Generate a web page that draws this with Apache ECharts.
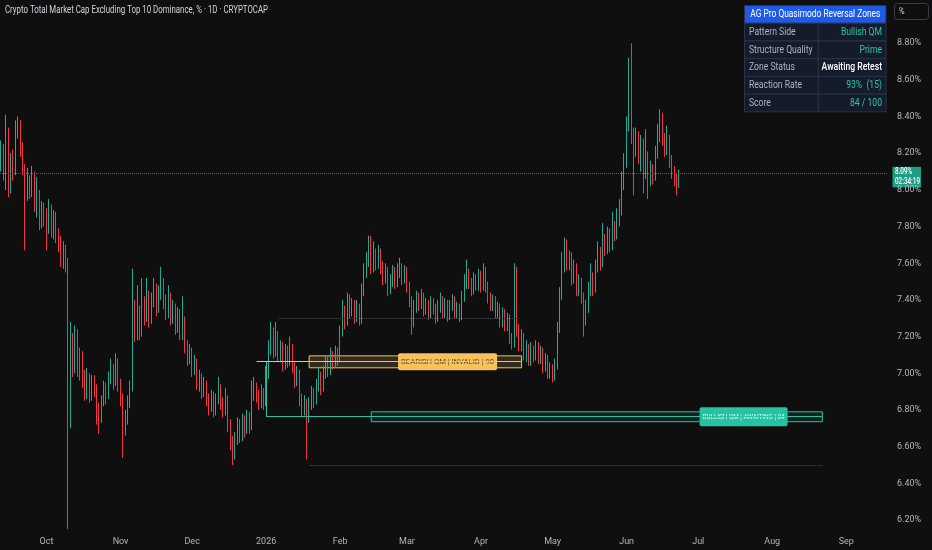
<!DOCTYPE html>
<html><head><meta charset="utf-8">
<script src="https://cdn.jsdelivr.net/npm/echarts@6/dist/echarts.min.js"></script>
<style>html,body{margin:0;padding:0;background:#0f0f0f;overflow:hidden;}#c{width:932px;height:550px;}</style>
</head><body><div id="c"></div>
<script>
// ---------- DATA ----------
const FONT = "Roboto, 'Noto Sans', sans-serif";
const chartTitle = 'Crypto Total Market Cap Excluding Top 10 Dominance, % · 1D · CRYPTOCAP';
const firstDay = [2025, 8, 12];        // 2025-09-12
const axisDays = 372;                  // visible date range incl. empty future space
const monthTickLabels = ['2026','Feb','Mar','Apr','May','Jun','Jul','Aug','Sep','Oct','Nov','Dec'];

// candles: [open, close, low, high]
const sep2025 = [
 [8.15,8.20,8.10,8.27],[8.20,8.10,8.05,8.25],[8.10,8.30,8.00,8.41],[8.30,8.02,7.96,8.34],[8.02,8.15,7.98,8.20],
 [8.15,8.10,8.05,8.22],[8.10,8.32,8.08,8.38],[8.32,8.36,8.28,8.40],[8.36,8.22,8.18,8.38],[8.22,8.12,8.08,8.26],
 [8.12,7.98,7.67,8.14],[7.98,8.05,7.94,8.12],[8.05,7.99,7.95,8.08],[7.99,8.08,7.96,8.13],[8.08,7.92,7.88,8.10],
 [7.92,7.97,7.85,8.07],[7.97,7.82,7.78,8.00],[7.82,7.90,7.79,7.94],[7.90,7.86,7.80,7.93]
];
const oct2025 = [
 [7.86,7.80,7.67,7.90],[7.80,7.90,7.76,7.95],[7.90,7.78,7.74,7.92],[7.78,7.85,7.73,7.89],[7.85,7.75,7.71,7.88],
 [7.75,7.72,7.66,7.79],[7.72,7.62,7.58,7.75],[7.62,7.68,7.57,7.72],[7.68,7.60,7.55,7.70],[7.60,6.85,6.15,7.63],
 [6.85,7.15,6.70,7.28],[7.15,7.05,6.98,7.22],[7.05,7.20,7.00,7.26],[7.20,7.10,6.98,7.24],[7.10,7.02,6.96,7.14],
 [7.02,6.98,6.92,7.12],[6.98,6.90,6.85,7.02],[6.90,6.98,6.86,7.03],[6.98,6.88,6.84,7.00],[6.88,6.95,6.85,6.99],
 [6.95,6.92,6.87,6.99],[6.92,6.80,6.72,6.94],[6.80,6.76,6.67,6.84],[6.76,6.85,6.73,6.88],[6.85,6.92,6.82,6.96],
 [6.92,6.88,6.83,6.95],[6.88,6.98,6.86,7.01],[6.98,7.02,6.94,7.08],[7.02,6.95,6.91,7.05],[6.95,7.05,6.93,7.11],
 [7.05,6.94,6.90,7.08]
];
const nov2025 = [
 [6.94,6.86,6.82,6.97],[6.86,6.70,6.54,6.89],[6.70,6.76,6.66,6.80],[6.76,6.85,6.72,6.88],[6.85,6.92,6.81,6.96],
 [6.92,7.35,6.90,7.57],[7.35,7.22,7.17,7.40],[7.22,7.34,7.18,7.48],[7.34,7.22,7.18,7.37],[7.22,7.38,7.20,7.52],
 [7.38,7.32,7.26,7.42],[7.32,7.42,7.28,7.52],[7.42,7.30,7.25,7.45],[7.30,7.40,7.27,7.44],[7.40,7.46,7.36,7.52],
 [7.46,7.36,7.31,7.49],[7.36,7.44,7.33,7.48],[7.44,7.50,7.40,7.58],[7.50,7.40,7.35,7.52],[7.40,7.34,7.29,7.43],
 [7.34,7.42,7.30,7.48],[7.42,7.30,7.26,7.44],[7.30,7.36,7.27,7.40],[7.36,7.25,7.21,7.38],[7.25,7.32,7.22,7.36],
 [7.32,7.22,7.18,7.35],[7.22,7.28,7.18,7.42],[7.28,7.15,7.11,7.31],[7.15,7.08,7.04,7.18],[7.08,7.12,7.05,7.16]
];
const dec2025 = [
 [7.12,7.02,6.98,7.14],[7.02,7.06,6.99,7.10],[7.06,6.95,6.91,7.08],[6.95,6.98,6.90,7.02],[6.98,6.90,6.86,7.00],
 [6.90,6.94,6.87,6.98],[6.94,6.86,6.82,6.96],[6.86,6.82,6.77,6.89],[6.82,6.88,6.79,6.91],[6.88,6.80,6.76,6.90],
 [6.80,6.86,6.77,6.89],[6.86,6.92,6.83,6.98],[6.92,6.84,6.80,6.94],[6.84,6.80,6.76,6.87],[6.80,6.86,6.77,6.92],
 [6.86,6.72,6.68,6.88],[6.72,6.62,6.58,6.75],[6.62,6.56,6.50,6.66],[6.56,6.64,6.53,6.68],[6.64,6.72,6.61,6.76],
 [6.72,6.66,6.62,6.75],[6.66,6.74,6.63,6.78],[6.74,6.70,6.65,6.77],[6.70,6.76,6.67,6.80],[6.76,6.71,6.67,6.79],
 [6.71,6.88,6.69,6.96],[6.88,6.92,6.85,6.98],[6.92,6.88,6.84,6.95],[6.88,6.84,6.80,6.91],[6.84,6.90,6.81,6.94],
 [6.90,6.84,6.80,6.92]
];
const jan2026 = [
 [6.84,7.00,6.82,7.04],[7.00,7.14,6.97,7.18],[7.14,7.22,7.10,7.28],[7.22,7.12,7.08,7.25],[7.12,7.20,7.09,7.28],
 [7.20,7.10,7.06,7.23],[7.10,7.14,7.06,7.18],[7.14,7.05,7.01,7.17],[7.05,7.12,7.02,7.16],[7.12,7.08,7.03,7.15],
 [7.08,7.14,7.04,7.20],[7.14,7.04,7.00,7.16],[7.04,6.96,6.92,7.06],[6.96,7.00,6.93,7.04],[7.00,6.86,6.82,7.02],
 [6.86,6.80,6.76,6.89],[6.80,6.84,6.77,6.88],[6.84,6.76,6.53,6.86],[6.76,6.84,6.73,6.87],[6.84,6.90,6.80,6.93],
 [6.90,6.85,6.81,6.92],[6.85,6.94,6.83,6.97],[6.94,6.99,6.90,7.03],[6.99,6.92,6.88,7.01],[6.92,7.00,6.90,7.04],
 [7.00,7.06,6.97,7.10],[7.06,7.02,6.98,7.09],[7.02,7.10,6.99,7.14],[7.10,7.06,7.02,7.12],[7.06,7.12,7.03,7.15],
 [7.12,7.08,7.04,7.14]
];
const feb2026 = [
 [7.08,7.22,7.06,7.26],[7.22,7.34,7.20,7.40],[7.34,7.28,7.24,7.37],[7.28,7.40,7.26,7.44],[7.40,7.34,7.30,7.43],
 [7.34,7.38,7.31,7.41],[7.38,7.30,7.27,7.40],[7.30,7.36,7.28,7.40],[7.36,7.29,7.26,7.38],[7.29,7.45,7.27,7.49],
 [7.45,7.56,7.42,7.60],[7.56,7.62,7.52,7.66],[7.62,7.68,7.58,7.75],[7.68,7.58,7.54,7.75],[7.58,7.66,7.55,7.72],
 [7.66,7.60,7.56,7.68],[7.60,7.66,7.57,7.70],[7.66,7.58,7.54,7.68],[7.58,7.52,7.48,7.61],[7.52,7.56,7.49,7.60],
 [7.56,7.46,7.42,7.58],[7.46,7.50,7.43,7.54],[7.50,7.55,7.47,7.59],[7.55,7.50,7.46,7.58],[7.50,7.56,7.47,7.60],
 [7.56,7.58,7.52,7.63],[7.58,7.52,7.48,7.60],[7.52,7.56,7.49,7.59]
];
const mar2026 = [
 [7.56,7.48,7.44,7.58],[7.48,7.40,7.36,7.50],[7.40,7.28,7.21,7.42],[7.28,7.36,7.25,7.40],[7.36,7.42,7.33,7.45],
 [7.42,7.38,7.34,7.44],[7.38,7.42,7.35,7.46],[7.42,7.35,7.31,7.44],[7.35,7.38,7.32,7.41],[7.38,7.32,7.29,7.40],
 [7.32,7.38,7.30,7.42],[7.38,7.36,7.32,7.41],[7.36,7.30,7.27,7.38],[7.30,7.36,7.28,7.40],[7.36,7.40,7.33,7.44],
 [7.40,7.33,7.30,7.42],[7.33,7.38,7.30,7.41],[7.38,7.31,7.28,7.40],[7.31,7.37,7.29,7.40],[7.37,7.40,7.34,7.43],
 [7.40,7.33,7.30,7.42],[7.33,7.36,7.30,7.39],[7.36,7.31,7.28,7.38],[7.31,7.42,7.29,7.45],[7.42,7.50,7.39,7.54],
 [7.50,7.55,7.46,7.62],[7.55,7.50,7.46,7.57],[7.50,7.46,7.42,7.52],[7.46,7.52,7.43,7.55],[7.52,7.48,7.45,7.54],
 [7.48,7.54,7.45,7.57]
];
const apr2026 = [
 [7.54,7.48,7.44,7.56],[7.48,7.56,7.45,7.60],[7.56,7.48,7.44,7.58],[7.48,7.42,7.38,7.50],[7.42,7.38,7.34,7.44],
 [7.38,7.40,7.34,7.43],[7.40,7.33,7.30,7.42],[7.33,7.36,7.30,7.39],[7.36,7.28,7.25,7.38],[7.28,7.33,7.25,7.36],
 [7.33,7.26,7.23,7.35],[7.26,7.30,7.23,7.33],[7.30,7.20,7.16,7.32],[7.20,7.16,7.13,7.22],[7.16,7.56,7.14,7.60],
 [7.56,7.24,7.20,7.58],[7.24,7.16,7.12,7.27],[7.16,7.20,7.12,7.24],[7.20,7.10,7.07,7.22],[7.10,7.14,7.06,7.18],
 [7.14,7.07,7.04,7.16],[7.07,7.13,7.04,7.17],[7.13,7.10,7.06,7.15],[7.10,7.15,7.07,7.18],[7.15,7.08,7.05,7.17],
 [7.08,7.12,7.05,7.15],[7.12,7.04,7.00,7.14],[7.04,7.08,7.01,7.11],[7.08,7.00,6.97,7.10],[7.00,7.03,6.97,7.06]
];
const may2026 = [
 [7.03,6.98,6.95,7.05],[6.98,7.04,6.96,7.08],[7.04,7.25,7.02,7.28],[7.25,7.42,7.22,7.47],[7.42,7.58,7.40,7.66],
 [7.58,7.68,7.55,7.74],[7.68,7.60,7.56,7.73],[7.60,7.64,7.56,7.67],[7.64,7.52,7.48,7.66],[7.52,7.58,7.49,7.62],
 [7.58,7.46,7.42,7.60],[7.46,7.50,7.42,7.54],[7.50,7.42,7.38,7.52],[7.42,7.30,7.20,7.44],[7.30,7.36,7.26,7.40],
 [7.36,7.46,7.33,7.50],[7.46,7.52,7.42,7.60],[7.52,7.46,7.42,7.55],[7.46,7.58,7.44,7.62],[7.58,7.66,7.55,7.72],
 [7.66,7.60,7.56,7.69],[7.60,7.72,7.58,7.82],[7.72,7.68,7.64,7.76],[7.68,7.76,7.65,7.80],[7.76,7.70,7.66,7.79],
 [7.70,7.80,7.67,7.88],[7.80,7.76,7.72,7.83],[7.76,7.84,7.73,7.90],[7.84,7.90,7.80,7.95],[7.90,8.05,7.86,8.10],
 [8.05,8.15,8.00,8.20]
];
const jun2026 = [
 [8.15,8.36,8.12,8.40],[8.36,8.69,8.32,8.72],[8.69,8.30,8.25,8.80],[8.30,8.22,7.97,8.34],[8.22,8.30,8.18,8.34],
 [8.30,8.18,8.14,8.32],[8.18,8.25,8.10,8.30],[8.25,8.10,7.98,8.28],[8.10,8.18,8.06,8.33],[8.18,8.05,7.95,8.21],
 [8.05,8.12,8.02,8.16],[8.12,8.08,8.03,8.14],[8.08,8.20,8.05,8.24],[8.20,8.30,8.17,8.36],[8.30,8.36,8.26,8.44],
 [8.36,8.28,8.24,8.42],[8.28,8.22,8.18,8.31],[8.22,8.28,8.19,8.35],[8.28,8.16,8.12,8.30],[8.16,8.10,8.06,8.19],
 [8.10,8.06,8.02,8.13],[8.06,8.03,7.97,8.09],[8.03,8.09,8.01,8.11]
];
const lastPrice = 8.09;
const countdown = '02:34:19';

// zones (value levels) and their day indices from firstDay
const bearZone = {top:7.095, mid:7.063, bottom:7.030, originIdx:107, startIdx:129, endIdx:218, labelIdx:187, text:'BEARISH QM | INVALID | 90'};
const bullZone = {top:6.790, mid:6.763, bottom:6.736, originIdx:111, startIdx:155, endIdx:344, labelIdx:311, text:'BULLISH QM | AWAITING | 84'};
const upperRef = {value:7.302, startIdx:116, endIdx:217};
const lowerRef = {value:6.501, startIdx:129, endIdx:344};

// table
const tableTitle = 'AG Pro Quasimodo Reversal Zones';
const tableLabels = ['Pattern Side','Structure Quality','Zone Status','Reaction Rate','Score'];
const tableValues = ['Bullish QM','Prime','Awaiting Retest','93%  (15)','84 / 100'];
const tableValueColors = ['#2bc4a4','#2bc4a4','#ffffff','#2bc4a4','#2bc4a4'];

// ---------- BUILD ----------
const dates = [];
const t0 = Date.UTC(firstDay[0], firstDay[1], firstDay[2]);
for (let i = 0; i < axisDays; i++) dates.push(new Date(t0 + i * 86400000).toISOString().slice(0, 10));
const candles = [].concat(sep2025, oct2025, nov2025, dec2025, jan2026, feb2026, mar2026, apr2026, may2026, jun2026);

const UP = '#22ab94', DOWN = '#f23645', GOLD = '#f7c25f', TEAL = '#26c2a2';
const seg = (i1, v1, i2, v2, color, type) => [
  {coord:[dates[i1], v1], lineStyle:{color:color, type:type || 'solid', width:1}},
  {coord:[dates[i2], v2]}
];

// condensed text helper (measure with canvas, squeeze horizontally around the anchor)
const mctx = document.createElement('canvas').getContext('2d');
function textW(str, font) { mctx.font = font; return mctx.measureText(str).width; }
function fitScale(str, font, target) { return Math.min(1, target / textW(str, font)); }
function ctext(str, x, y, font, fill, align, scale) {
  return {type:'text', x:x, y:y, scaleX:scale,
    style:{text:str, fill:fill, font:font, align:align || 'left', verticalAlign:'middle'}};
}

const chart = echarts.init(document.getElementById('c'));
chart.setOption({
  backgroundColor:'#0f0f0f',
  animation:false,
  textStyle:{fontFamily:FONT},
  grid:[
    {left:0, right:44, top:6.5, bottom:30},
    {left:0, right:44, top:529, height:1}
  ],
  xAxis:[
    {type:'category', data:dates, gridIndex:0, boundaryGap:true, show:false},
    {type:'category', data:dates, gridIndex:1, boundaryGap:true,
     axisLine:{show:false}, axisTick:{show:false}, splitLine:{show:false},
     axisLabel:{interval:(idx, val) => val.slice(8) === '01',
       formatter:(val) => monthTickLabels[parseInt(val.slice(5, 7), 10) - 1],
       color:'#b2b5be', fontSize:9, margin:7, fontFamily:FONT}}
  ],
  yAxis:[
    {type:'value', gridIndex:0, position:'right', min:6.2, max:9.0, interval:0.2,
     splitLine:{show:false}, axisLine:{show:false}, axisTick:{show:false},
     axisLabel:{color:'#b2b5be', fontSize:9, margin:9, fontFamily:FONT,
       formatter:(v) => (v < 8.9) ? v.toFixed(2) + '%' : ''}},
    {type:'value', gridIndex:1, show:false}
  ],
  series:[
    {type:'candlestick', name:'OTHERS.D', xAxisIndex:0, yAxisIndex:0, data:candles, barWidth:1.2, clip:false,
     itemStyle:{color:UP, color0:DOWN, borderColor:UP, borderColor0:DOWN, borderWidth:1},
     markArea:{silent:true, data:[
       [{coord:[dates[bearZone.startIdx], bearZone.top], itemStyle:{color:'rgba(247,194,95,0.16)', borderColor:GOLD, borderWidth:1}},
        {coord:[dates[bearZone.endIdx], bearZone.bottom]}],
       [{coord:[dates[bullZone.startIdx], bullZone.top], itemStyle:{color:'rgba(38,194,162,0.10)', borderColor:TEAL, borderWidth:1}},
        {coord:[dates[bullZone.endIdx], bullZone.bottom]}]
     ]},
     markLine:{silent:true, symbol:['none','none'], label:{show:false}, data:[
       seg(bearZone.originIdx, bearZone.mid, bearZone.endIdx, bearZone.mid, GOLD),
       seg(bullZone.originIdx, bearZone.mid, bullZone.originIdx, bullZone.mid, TEAL),
       seg(bullZone.originIdx, bullZone.mid, bullZone.endIdx, bullZone.mid, TEAL),
       seg(upperRef.startIdx, upperRef.value, upperRef.endIdx, upperRef.value, '#4a4d55', 'dotted'),
       seg(lowerRef.startIdx, lowerRef.value, lowerRef.endIdx, lowerRef.value, '#4a4d55', 'dotted'),
       {yAxis:lastPrice, lineStyle:{color:'#5a5d63', type:'dotted', width:1}}
     ]}
    }
  ]
});

// ---------- overlay texts positioned through the chart's own scales ----------
const px = (idx) => chart.convertToPixel({xAxisIndex:0}, dates[idx]);
const py = (v) => chart.convertToPixel({yAxisIndex:0}, v);
const g = [];
// title
const fTitle = '10px ' + FONT;
g.push(ctext(chartTitle, 5, 10, fTitle, '#d1d4dc', 'left', fitScale(chartTitle, fTitle, 263)));
// % box
g.push({type:'rect', shape:{x:894.5, y:3.5, width:34, height:16, r:3}, style:{fill:'#0f0f0f', stroke:'#3a3d45', lineWidth:1}});
g.push(ctext('%', 899, 11.5, '9px ' + FONT, '#d1d4dc', 'left', 0.85));
// table
g.push({type:'rect', shape:{x:744.5, y:5.5, width:141.5, height:17.8}, style:{fill:'#1f5ae6', stroke:'#2a3346', lineWidth:1}});
const fHead = '10px ' + FONT;
g.push(ctext(tableTitle, 815.3, 14.6, fHead, '#ffffff', 'center', fitScale(tableTitle, fHead, 130)));
tableLabels.forEach((lab, k) => {
  const y = 23.3 + k * 17.7;
  g.push({type:'rect', shape:{x:744.5, y:y, width:73.8, height:17.7}, style:{fill:'#141c2b', stroke:'#2a3346', lineWidth:1}});
  g.push({type:'rect', shape:{x:818.3, y:y, width:67.7, height:17.7}, style:{fill:'#141c2b', stroke:'#2a3346', lineWidth:1}});
  g.push(ctext(lab, 749, y + 9, '10px ' + FONT, '#aeb3bd', 'left', 0.86));
  g.push(ctext(tableValues[k], 882, y + 9, (k === 2 ? '500 ' : '') + '10px ' + FONT, tableValueColors[k], 'right', 0.86));
});
// zone labels
function zoneLabel(zone, w, h, bg, fg) {
  const cx = px(zone.labelIdx), cy = py(zone.mid);
  const f = '8px ' + FONT;
  g.push({type:'rect', shape:{x:cx - w / 2, y:cy - h / 2, width:w, height:h, r:2}, style:{fill:bg}});
  g.push(ctext(zone.text, cx, cy + 0.5, f, fg, 'center', fitScale(zone.text, f, w - 6)));
}
zoneLabel(bearZone, 99, 17, GOLD, '#3d2d05');
zoneLabel(bullZone, 88, 19, TEAL, '#ffffff');
// last price tag on the price scale
const ly = py(lastPrice);
const fTag = '500 9px ' + FONT;
const tagScale = fitScale(countdown, fTag, 25);
g.push({type:'rect', shape:{x:892.5, y:ly - 6.5, width:28.5, height:20.5}, style:{fill:'#1e9e85'}});
g.push(ctext(lastPrice.toFixed(2) + '%', 895, ly - 1.2, fTag, '#ffffff', 'left', tagScale));
g.push(ctext(countdown, 895, ly + 8.6, fTag, '#ffffff', 'left', tagScale));
chart.setOption({graphic:g});
</script>
</body></html>
